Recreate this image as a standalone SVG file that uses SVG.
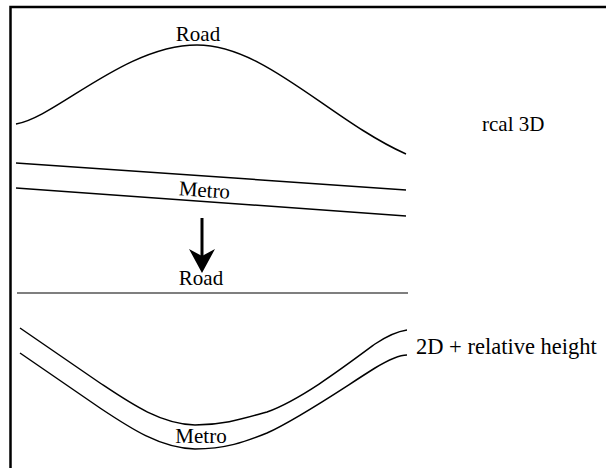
<svg xmlns="http://www.w3.org/2000/svg" width="606" height="468" viewBox="0 0 606 468">
<style>
.ln{fill:none;stroke:#000;stroke-width:1.5}
text{font-family:"Liberation Serif","Times New Roman",serif;font-size:21px;fill:#000}
text.big{font-size:22.5px}
</style>
<rect width="606" height="468" fill="#fff"/>
<g id="frame">
<path d="M10.5,468 V7 H606" fill="none" stroke="#000" stroke-width="2.5"/>
</g>
<g id="real3d">
<path id="road3d" class="ln" d="M16,124 C55,118 125,45 197,45 C265,45 330,120 406,154"/>
<text x="198" y="41" text-anchor="middle">Road</text>
<path id="metro3d-a" class="ln" d="M16,163 L406,190"/>
<path id="metro3d-b" class="ln" d="M16,188 L406,216"/>
<text x="204" y="197" text-anchor="middle" transform="rotate(3.9 204 197)">Metro</text>
<text x="482" y="131">rcal 3D</text>
</g>
<g id="arrow">
<line x1="202" y1="218" x2="202" y2="256" stroke="#000" stroke-width="3"/>
<path d="M189,249 L202,256 L215,249 L202,273 Z" fill="#000"/>
</g>
<g id="flat2d">
<text x="201" y="285" text-anchor="middle">Road</text>
<line x1="17" y1="293" x2="408" y2="293" stroke="#555" stroke-width="1.5"/>
<path id="metro2d-a" class="ln" d="M20,328 L100,383 C130,403 160,424 195,425 C225,425 245,418 267,412 C300,400 340,370 375,344 C390,334 400,331 407,330"/>
<path id="metro2d-b" class="ln" d="M20,353 L100,408 C130,428 160,448 195,449 C225,449 245,442 267,433 C300,418 340,390 375,368 C390,359 400,355 407,355"/>
<text x="201" y="443" text-anchor="middle">Metro</text>
<text class="big" x="416" y="354">2D + relative height</text>
</g>
</svg>
